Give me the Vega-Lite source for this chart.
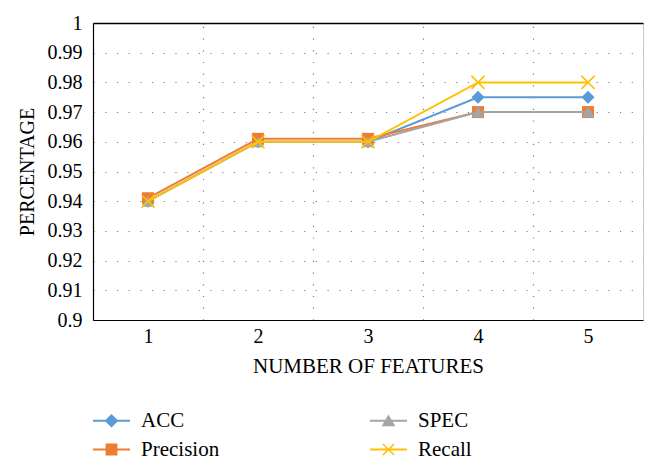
{
  "$schema": "https://vega.github.io/schema/vega-lite/v6.json",
  "width": 550,
  "height": 297,
  "autosize": {"type": "none"},
  "padding": {"left": 93, "top": 23, "right": 14, "bottom": 148},
  "background": "white",
  "config": {
    "font": "Liberation Serif",
    "view": {"stroke": "#c8c8c8", "strokeWidth": 1},
    "axis": {"labelFont": "Liberation Serif", "titleFont": "Liberation Serif", "labelColor": "black", "titleColor": "black", "titleFontWeight": "normal"},
    "legend": {"labelFont": "Liberation Serif"}
  },
  "data": {
    "values": [
      {"series": "ACC", "features": 1, "value": 0.94},
      {"series": "ACC", "features": 2, "value": 0.96},
      {"series": "ACC", "features": 3, "value": 0.96},
      {"series": "ACC", "features": 4, "value": 0.975},
      {"series": "ACC", "features": 5, "value": 0.975},
      {"series": "Precision", "features": 1, "value": 0.941},
      {"series": "Precision", "features": 2, "value": 0.961},
      {"series": "Precision", "features": 3, "value": 0.961},
      {"series": "Precision", "features": 4, "value": 0.97},
      {"series": "Precision", "features": 5, "value": 0.97},
      {"series": "SPEC", "features": 1, "value": 0.94},
      {"series": "SPEC", "features": 2, "value": 0.96},
      {"series": "SPEC", "features": 3, "value": 0.96},
      {"series": "SPEC", "features": 4, "value": 0.97},
      {"series": "SPEC", "features": 5, "value": 0.97},
      {"series": "Recall", "features": 1, "value": 0.94},
      {"series": "Recall", "features": 2, "value": 0.96},
      {"series": "Recall", "features": 3, "value": 0.96},
      {"series": "Recall", "features": 4, "value": 0.98},
      {"series": "Recall", "features": 5, "value": 0.98}
    ]
  },
  "layer": [
    {
      "transform": [{"filter": "datum.series === 'ACC'"}],
      "mark": {"type": "line", "strokeWidth": 2},
      "encoding": {
        "x": {"field": "features", "type": "quantitative", "scale": {"domain": [0.5, 5.5], "nice": false, "zero": false},
          "axis": {"orient": "bottom", "values": [1, 2, 3, 4, 5], "format": "d", "grid": false, "ticks": false, "domainColor": "black", "domainWidth": 1.2, "labelFontSize": 20, "labelPadding": 6, "title": "NUMBER OF FEATURES", "titleFontSize": 21, "titlePadding": 9}},
        "y": {"field": "value", "type": "quantitative", "scale": {"domain": [0.9, 1], "nice": false, "zero": false},
          "axis": {"values": [0.9, 0.91, 0.92, 0.93, 0.94, 0.95, 0.96, 0.97, 0.98, 0.99, 1], "format": ".2~f", "labelOverlap": false, "grid": true, "gridDash": [1.2, 10.5], "gridColor": "#7f7f7f", "gridWidth": 1.2, "ticks": false, "domainColor": "black", "domainWidth": 1.2, "labelFontSize": 20, "labelPadding": 11, "title": "PERCENTAGE", "titleFontSize": 20, "titlePadding": 10}},
        "color": {"field": "series", "type": "nominal", "scale": {"domain": ["ACC", "Precision", "SPEC", "Recall"], "range": ["#5B9BD5", "#ED7D31", "#A5A5A5", "#FFC000"]}}
      }
    },
    {
      "transform": [{"filter": "datum.series === 'ACC'"}],
      "mark": {"type": "point", "shape": "diamond", "filled": true, "size": 169, "opacity": 1},
      "encoding": {
        "x": {"field": "features", "type": "quantitative",
          "axis": {"orient": "top", "values": [1.5, 2.5, 3.5, 4.5], "grid": true, "gridDash": [1.2, 10.5], "gridColor": "#7f7f7f", "gridWidth": 1.2, "labels": false, "ticks": false, "domainColor": "black", "domainWidth": 1.5, "title": null}},
        "y": {"field": "value", "type": "quantitative", "axis": null},
        "color": {"field": "series", "type": "nominal"}
      }
    },
    {
      "transform": [{"filter": "datum.series === 'Precision'"}],
      "mark": {"type": "line", "strokeWidth": 2},
      "encoding": {
        "x": {"field": "features", "type": "quantitative", "axis": null},
        "y": {"field": "value", "type": "quantitative", "axis": null},
        "color": {"field": "series", "type": "nominal"}
      }
    },
    {
      "transform": [{"filter": "datum.series === 'Precision'"}],
      "mark": {"type": "point", "shape": "square", "filled": true, "size": 144, "opacity": 1},
      "encoding": {
        "x": {"field": "features", "type": "quantitative", "axis": null},
        "y": {"field": "value", "type": "quantitative", "axis": null},
        "color": {"field": "series", "type": "nominal"}
      }
    },
    {
      "transform": [{"filter": "datum.series === 'SPEC'"}],
      "mark": {"type": "line", "strokeWidth": 2},
      "encoding": {
        "x": {"field": "features", "type": "quantitative", "axis": null},
        "y": {"field": "value", "type": "quantitative", "axis": null},
        "color": {"field": "series", "type": "nominal"}
      }
    },
    {
      "transform": [{"filter": "datum.series === 'SPEC'"}],
      "mark": {"type": "point", "shape": "triangle-up", "filled": true, "size": 160, "opacity": 1},
      "encoding": {
        "x": {"field": "features", "type": "quantitative", "axis": null},
        "y": {"field": "value", "type": "quantitative", "axis": null},
        "color": {"field": "series", "type": "nominal"}
      }
    },
    {
      "transform": [{"filter": "datum.series === 'Recall'"}],
      "mark": {"type": "line", "strokeWidth": 2},
      "encoding": {
        "x": {"field": "features", "type": "quantitative", "axis": null},
        "y": {"field": "value", "type": "quantitative", "axis": null},
        "color": {"field": "series", "type": "nominal"}
      }
    },
    {
      "transform": [{"filter": "datum.series === 'Recall'"}],
      "mark": {"type": "point", "shape": "M-1,-1L1,1M-1,1L1,-1", "filled": false, "strokeWidth": 1.6, "size": 169, "opacity": 1},
      "encoding": {
        "x": {"field": "features", "type": "quantitative", "axis": null},
        "y": {"field": "value", "type": "quantitative", "axis": null},
        "color": {"field": "series", "type": "nominal"}
      }
    },
    {
      "mark": {"type": "point", "filled": true, "size": 1369, "opacity": 1, "clip": true},
      "encoding": {
        "x": {"field": "features", "type": "quantitative", "axis": null},
        "y": {"datum": 0.5, "type": "quantitative", "axis": null},
        "color": {"field": "series", "type": "nominal",
          "legend": {"orient": "none", "legendX": 0, "legendY": 379, "columns": 2, "title": null, "labelFontSize": 21, "labelColor": "black", "symbolSize": 1369, "symbolStrokeWidth": 0, "labelOffset": 11, "columnPadding": 150, "rowPadding": -12, "padding": 0}},
        "shape": {"field": "series", "type": "nominal",
          "scale": {"domain": ["ACC", "Precision", "SPEC", "Recall"], "range": [
            "M-1,-0.055H1V0.055H-1Z M0,-0.37L0.37,0L0,0.37L-0.37,0Z",
            "M-1,-0.055H1V0.055H-1Z M-0.32,-0.32H0.32V0.32H-0.32Z",
            "M-1,-0.055H1V0.055H-1Z M0,-0.34L0.37,0.3H-0.37Z",
            "M-1,-0.055H1V0.055H-1Z M-0.272,-0.328L0.328,0.272L0.272,0.328L-0.328,-0.272Z M-0.328,0.272L0.272,-0.328L0.328,-0.272L-0.272,0.328Z"
          ]},
          "legend": {"orient": "none", "legendX": 0, "legendY": 379, "columns": 2, "title": null, "labelFontSize": 21, "labelColor": "black", "symbolSize": 1369, "symbolStrokeWidth": 0, "labelOffset": 11, "columnPadding": 150, "rowPadding": -12, "padding": 0}}
      }
    }
  ],
  "resolve": {"axis": {"x": "independent", "y": "independent"}}
}
